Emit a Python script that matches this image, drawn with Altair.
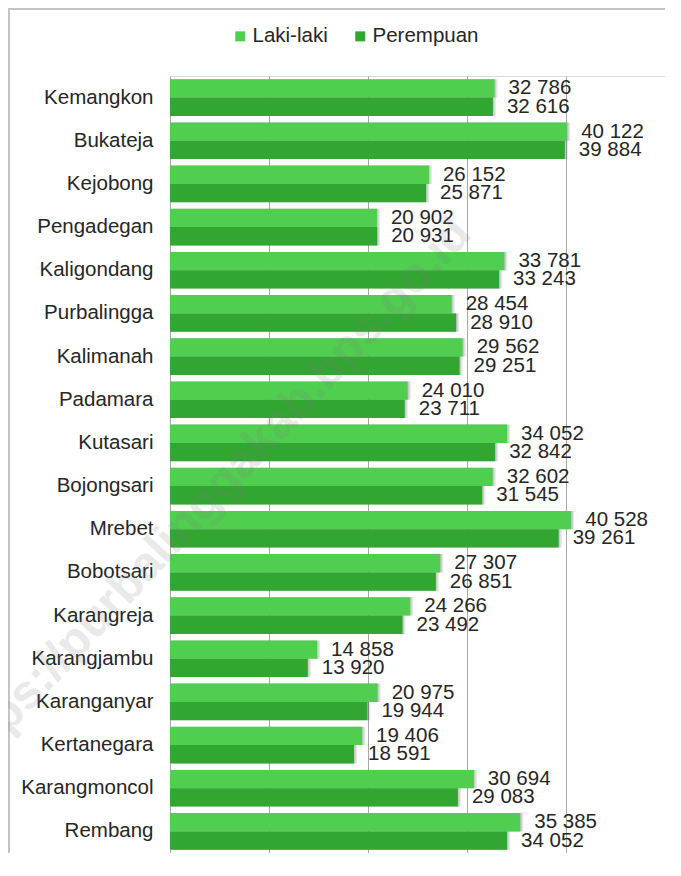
import altair as alt
import pandas as pd

districts = ["Kemangkon", "Bukateja", "Kejobong", "Pengadegan", "Kaligondang",
             "Purbalingga", "Kalimanah", "Padamara", "Kutasari", "Bojongsari\u00a0",
             "Mrebet", "Bobotsari", "Karangreja", "Karangjambu", "Karanganyar",
             "Kertanegara", "Karangmoncol", "Rembang"]
laki = [32786, 40122, 26152, 20902, 33781, 28454, 29562, 24010, 34052, 32602,
        40528, 27307, 24266, 14858, 20975, 19406, 30694, 35385]
perempuan = [32616, 39884, 25871, 20931, 33243, 28910, 29251, 23711, 32842, 31545,
             39261, 26851, 23492, 13920, 19944, 18591, 29083, 34052]
series = ["Laki-laki", "Perempuan"]
colors = ["#4fce4f", "#31a631"]
grid_values = [0, 10000, 20000, 30000, 40000, 50000]

rows = []
for d, l, p in zip(districts, laki, perempuan):
    rows.append({"Kecamatan": d, "Jenis": series[0], "Jumlah": l})
    rows.append({"Kecamatan": d, "Jenis": series[1], "Jumlah": p})
df = pd.DataFrame(rows)
df["Label"] = df["Jumlah"].map(lambda v: f"{v:,}".replace(",", " "))

FONT = "Liberation Sans"
FS = 20.5
TXT = "#262626"

base = alt.Chart(df)
x_enc = alt.X("Jumlah:Q", scale=alt.Scale(domain=[0, 50000], nice=False),
              axis=alt.Axis(values=grid_values, labels=False, ticks=False, domain=False,
                            grid=True, gridColor="#a8a8a8", gridWidth=1, title=None))
y_enc = alt.Y("Kecamatan:N", sort=districts,
              scale=alt.Scale(paddingInner=0.15, paddingOuter=0.075),
              axis=alt.Axis(title=None, ticks=False, tickSize=0, domain=False,
                            labelFont=FONT, labelFontSize=FS, labelColor=TXT,
                            labelPadding=17, labelLimit=300))
yo_enc = alt.YOffset("Jenis:N", sort=series)

shadow1 = base.mark_bar(color="#000000", opacity=0.10, xOffset=3, yOffset=3).encode(
    x=x_enc, y=y_enc, yOffset=yo_enc)
shadow2 = base.mark_bar(color="#000000", opacity=0.12, xOffset=1.5, yOffset=1.5).encode(
    x=x_enc, y=y_enc, yOffset=yo_enc)

bars = base.mark_bar().encode(
    x=x_enc, y=y_enc, yOffset=yo_enc,
    color=alt.Color("Jenis:N", sort=series,
                    scale=alt.Scale(domain=series, range=colors),
                    legend=alt.Legend(title=None, orient="none", direction="horizontal",
                                      legendX=60, legendY=-50, padding=0,
                                      symbolType="square", symbolSize=100,
                                      symbolStrokeWidth=0, symbolOpacity=1,
                                      labelFont=FONT, labelFontSize=FS, labelColor=TXT,
                                      labelOffset=2, columnPadding=22)),
)

labels = base.mark_text(align="left", baseline="middle", dx=14, font=FONT,
                        fontSize=FS, color=TXT).encode(
    x="Jumlah:Q", y=alt.Y("Kecamatan:N", sort=districts), yOffset=yo_enc, text="Label:N")

wm = alt.Chart(pd.DataFrame({"t": ["https://purbalinggakab.bps.go.id"]})).mark_text(
    align="right", baseline="middle", angle=313, font=FONT, fontSize=48,
    fontWeight="bold", color="#808080", opacity=0.17).encode(
    text="t:N", x=alt.value(293), y=alt.value(150))

frame_df = pd.DataFrame({"k": [1]})
frame_left = alt.Chart(frame_df).mark_rule(color="#c4c4c4", strokeWidth=2).encode(
    x=alt.value(-161), y=alt.value(-68), y2=alt.value(800))
frame_top = alt.Chart(frame_df).mark_rule(color="#c4c4c4", strokeWidth=2).encode(
    y=alt.value(-67), x=alt.value(-162), x2=alt.value(495))

chart = alt.layer(frame_left, frame_top, shadow1, shadow2, bars, labels, wm).properties(
    width=495, height=777,
    autosize=alt.AutoSizeParams(type="none"),
    padding={"left": 162, "top": 68, "right": 0, "bottom": 0},
).configure_view(stroke=None).configure(background="white")

chart.save("out.html", embed_options={"renderer": "svg", "actions": False})
